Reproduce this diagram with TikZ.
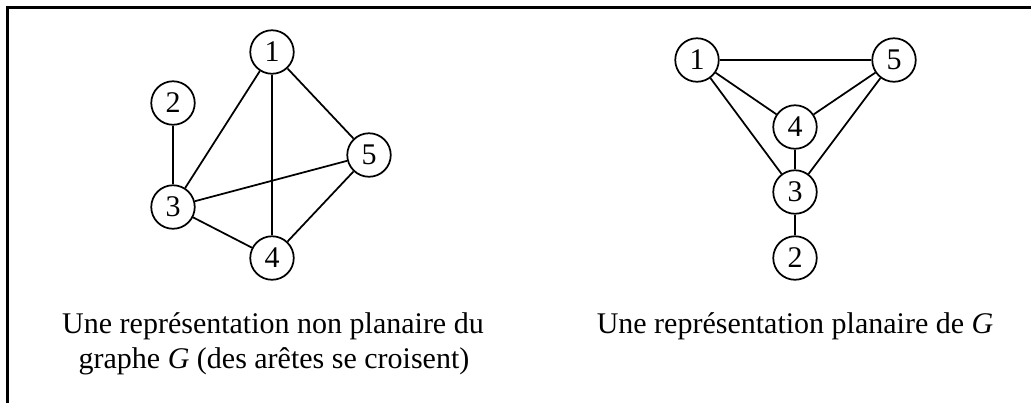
\documentclass[tikz,border=0pt]{standalone}
\usepackage{fontspec}
\setmainfont{Liberation Serif}
\begin{document}
\begin{tikzpicture}[x=0.4pt,y=-0.4pt,
  vertex/.style={circle,draw,line width=0.7pt,minimum size=17.4pt,inner sep=0pt,font=\fontsize{12}{14}\selectfont},
  edge/.style={line width=0.7pt},
  caption/.style={anchor=base,inner sep=0pt,font=\fontsize{12}{14}\selectfont},
  frame/.style={line width=1.2pt}]
\useasboundingbox (0,0) rectangle (1031,403);
\coordinate (fl) at (7,403);
\coordinate (fc) at (7,7);
\coordinate (fr) at (1031,7);
\draw[frame] (fl) -- (fc) -- (fr);
% left graph
\node[vertex] (a1) at (272,52) {1};
\node[vertex] (a2) at (173,103) {2};
\node[vertex] (a3) at (173,207) {3};
\node[vertex] (a5) at (369,155) {5};
\node[vertex] (a4) at (272,258) {4};
\draw[edge] (a2) -- (a3);
\draw[edge] (a1) -- (a3);
\draw[edge] (a1) -- (a4);
\draw[edge] (a1) -- (a5);
\draw[edge] (a3) -- (a5);
\draw[edge] (a3) -- (a4);
\draw[edge] (a4) -- (a5);
% right graph
\node[vertex] (b1) at (697,60) {1};
\node[vertex] (b5) at (894,60) {5};
\node[vertex] (b4) at (795,127) {4};
\node[vertex] (b3) at (795,192) {3};
\node[vertex] (b2) at (795,258) {2};
\draw[edge] (b1) -- (b5);
\draw[edge] (b1) -- (b4);
\draw[edge] (b1) -- (b3);
\draw[edge] (b5) -- (b4);
\draw[edge] (b5) -- (b3);
\draw[edge] (b4) -- (b3);
\draw[edge] (b3) -- (b2);
% captions
\node[caption] (t1) at (273,333) {Une représentation non planaire du};
\node[caption] (t2) at (274,368) {graphe \textit{G} (des arêtes se croisent)};
\node[caption] (t3) at (795,333) {Une représentation planaire de \textit{G}};
\end{tikzpicture}
\end{document}
